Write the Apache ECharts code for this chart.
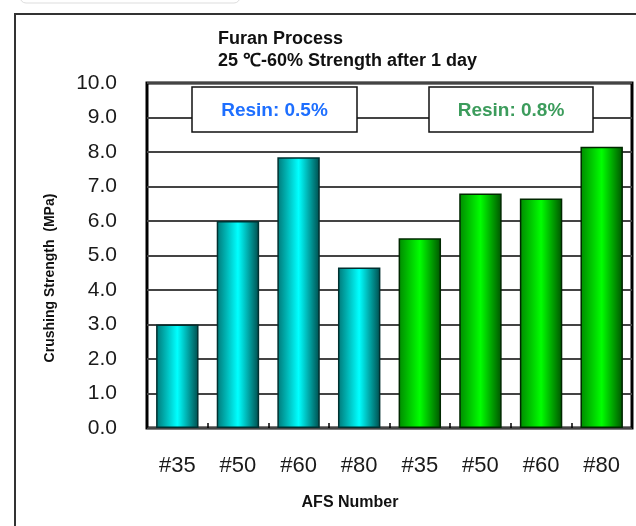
<!DOCTYPE html>
<html>
<head>
<meta charset="utf-8">
<script src="https://cdn.jsdelivr.net/npm/echarts@6/dist/echarts.min.js"></script>
<style>
  html, body { margin: 0; padding: 0; background: #fff; }
  #chart { width: 636px; height: 526px; }
</style>
</head>
<body>
<div id="chart"></div>
<script>
// AFS numbers, first four with 0.5% resin, last four with 0.8%
var categories = ['#35', '#50', '#60', '#80', '#35', '#50', '#60', '#80']
var strength = [3.0, 6.0, 7.85, 4.65, 5.5, 6.8, 6.65, 8.15]
var resinGroup = [0, 0, 0, 0, 1, 1, 1, 1]
var resinLabels = ['Resin: 0.5%', 'Resin: 0.8%']
var yTicks = [0, 1, 2, 3, 4, 5, 6, 7, 8, 9, 10]

var font = '"Liberation Sans", Arial, sans-serif'

function barGradient(dark, light, darker) {
  return new echarts.graphic.LinearGradient(0, 0, 1, 0, [
    { offset: 0, color: dark },
    { offset: 0.5, color: light },
    { offset: 1, color: darker }
  ])
}

var fills = [
  barGradient('#007878', '#00ffff', '#004c4c'),
  barGradient('#008a00', '#00ff00', '#005200')
]

// legend box with label, drawn over the grid lines
function legendBox(x, width, text, color) {
  return [
    {
      type: 'rect',
      z: 100,
      shape: { x: x, y: 87, width: width, height: 45 },
      style: { fill: '#fff', stroke: '#111', lineWidth: 1.5 }
    },
    {
      type: 'text',
      z: 101,
      x: x + width / 2,
      y: 111,
      style: {
        text: text,
        fontSize: 19,
        fontWeight: 'bold',
        fill: color,
        align: 'center',
        verticalAlign: 'middle',
        fontFamily: font
      }
    }
  ]
}

var chart = echarts.init(document.getElementById('chart'))

var option = {
  animation: false,
  backgroundColor: '#fff',
  grid: {
    left: 147,
    right: 4,
    top: 83,
    bottom: 98,
    show: true,
    borderColor: '#000',
    borderWidth: 3
  },
  xAxis: {
    type: 'category',
    data: categories,
    axisLine: { show: false },
    axisTick: {
      show: true,
      inside: true,
      length: 5,
      lineStyle: { color: '#000', width: 1.5 }
    },
    axisLabel: {
      margin: 27,
      fontSize: 22,
      color: '#1a1a1a',
      fontFamily: font
    }
  },
  yAxis: {
    type: 'value',
    min: yTicks[0],
    max: yTicks[yTicks.length - 1],
    interval: 1,
    axisLine: { show: false },
    axisTick: { show: false },
    axisLabel: {
      margin: 30,
      fontSize: 21,
      color: '#1a1a1a',
      fontFamily: font,
      formatter: function(v) { return v.toFixed(1) }
    },
    splitLine: { lineStyle: { color: '#444', width: 2 } }
  },
  series: [
    {
      type: 'bar',
      barWidth: '70%',
      data: strength.map(function(v, i) {
        return {
          value: v,
          itemStyle: {
            color: fills[resinGroup[i]],
            borderColor: resinGroup[i] === 0 ? '#003030' : '#002800',
            borderWidth: 1.5
          }
        }
      })
    }
  ],
  graphic: [
    {
      type: 'rect',
      z: 1,
      shape: { x: 15, y: 14, width: 640, height: 540 },
      style: { fill: 'none', stroke: '#333', lineWidth: 2 }
    },
    {
      type: 'rect',
      z: 1,
      shape: { x: 20, y: -12, width: 220, height: 15, r: 6 },
      style: { fill: '#fff', stroke: '#ddd', lineWidth: 1 }
    },
    {
      type: 'text',
      z: 100,
      left: 218,
      top: 28,
      style: {
        text: 'Furan Process\n25 ℃-60% Strength after 1 day',
        fontSize: 18,
        fontWeight: 'bold',
        lineHeight: 22,
        fill: '#111',
        fontFamily: font
      }
    }
  ]
    .concat(legendBox(192, 165, resinLabels[0], '#1e6fff'))
    .concat(legendBox(429, 164, resinLabels[1], '#3c9c5c'))
    .concat([
      {
        type: 'text',
        z: 100,
        x: 350,
        y: 503,
        style: {
          text: 'AFS Number',
          fontSize: 16,
          fontWeight: 'bold',
          fill: '#111',
          align: 'center',
          verticalAlign: 'middle',
          fontFamily: font
        }
      },
      {
        type: 'text',
        z: 100,
        x: 50,
        y: 278,
        rotation: Math.PI / 2,
        style: {
          text: 'Crushing Strength  (MPa)',
          fontSize: 14,
          fontWeight: 'bold',
          fill: '#111',
          align: 'center',
          verticalAlign: 'middle',
          fontFamily: font
        }
      }
    ])
}

chart.setOption(option)
</script>
</body>
</html>
